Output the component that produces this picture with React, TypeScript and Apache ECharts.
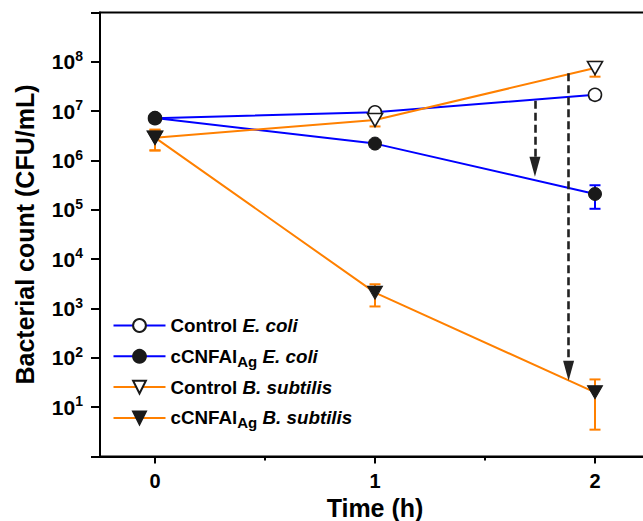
import React, { useEffect, useRef } from "react";
import * as echarts from "echarts";

// ---- data ----
const times = [0, 1, 2];
const seriesNames = [
  "Control E. coli",
  "cCNFAl_Ag E. coli",
  "Control B. subtilis",
  "cCNFAl_Ag B. subtilis",
];
const controlEcoli = [7.2e6, 9.5e6, 2.15e7];
const controlEcoliErr = [0.5e6, 0.8e6, 0.4e7];
const agEcoli = [7.3e6, 2.2e6, 2.1e5];
const agEcoliErr = [0.6e6, 0.3e6, 1.05e5];
const controlBs = [2.9e6, 6.6e6, 7.5e7];
const controlBsErr = [1.3e6, 1.7e6, 2.5e7];
const agBs = [2.9e6, 2.1e3, 20];
const agBsErr = [1.3e6, 1.0e3, 16.5];

const xTickValues = [0, 1, 2];
const xMinorTickValues = [0.5, 1.5];
const yLabelExponents = [1, 2, 3, 4, 5, 6, 7, 8];

// dashed arrows: time, start value, end value
const arrowTimes = [1.727, 1.88];
const arrowFrom = [1.63e7, 5.9e7];
const arrowTo = [7.5e5, 55];

const FONT = 'Arial, "Liberation Sans", sans-serif';
const BLUE = "#0000FF";
const ORANGE = "#FF8000";
const DARK = "#1a1a1a";
const TRI_DOWN = "path://M0,0L16,0L8,14Z";

const legendText: Record<string, string> = {
  "Control E. coli": "{b|Control }{i|E. coli}",
  "cCNFAl_Ag E. coli": "{b|cCNFAl}{sub|Ag}{i| E. coli}",
  "Control B. subtilis": "{b|Control }{i|B. subtilis}",
  "cCNFAl_Ag B. subtilis": "{b|cCNFAl}{sub|Ag}{i| B. subtilis}",
};

function errorSeries(vals: number[], errs: number[], color: string) {
  return {
    type: "custom",
    xAxisIndex: 0,
    yAxisIndex: 0,
    z: 1,
    silent: true,
    data: times.map((t, i) => [t, vals[i], errs[i]]),
    encode: { x: 0, y: 1 },
    renderItem: (params: any, api: any) => {
      const x = api.value(0);
      const y = api.value(1);
      const e = api.value(2);
      const hi = api.coord([x, y + e]);
      const lo = api.coord([x, y - e]);
      const w = 5.5;
      const style = { stroke: color, lineWidth: 2 };
      return {
        type: "group",
        children: [
          { type: "line", shape: { x1: hi[0], y1: hi[1], x2: lo[0], y2: lo[1] }, style },
          { type: "line", shape: { x1: hi[0] - w, y1: hi[1], x2: hi[0] + w, y2: hi[1] }, style },
          { type: "line", shape: { x1: lo[0] - w, y1: lo[1], x2: lo[0] + w, y2: lo[1] }, style },
        ],
      };
    },
  };
}

function lineSeries(
  name: string,
  vals: number[],
  color: string,
  symbol: string,
  size: number | number[],
  filled: boolean,
  extra: any = {}
) {
  return {
    type: "line",
    name,
    xAxisIndex: 0,
    yAxisIndex: 0,
    z: 2,
    data: times.map((t, i) => [t, vals[i]]),
    symbol,
    symbolSize: size,
    showAllSymbol: true,
    lineStyle: { color, width: 2 },
    itemStyle: filled
      ? { color: DARK, borderColor: DARK, borderWidth: 1 }
      : { color: "#ffffff", borderColor: DARK, borderWidth: 1.6 },
    emphasis: { disabled: true },
    ...extra,
  };
}

export default function App() {
  const ref = useRef<HTMLDivElement>(null);

  useEffect(() => {
    if (!ref.current) return;
    const chart = echarts.init(ref.current, undefined, { renderer: "svg" });

    const arrowData = arrowTimes.map((t, i) => [
      { coord: [t, arrowFrom[i]], symbol: "none" },
      { coord: [t, arrowTo[i]], symbol: "triangle", symbolSize: [11, 20] },
    ]);

    const option: any = {
      animation: false,
      backgroundColor: "#ffffff",
      textStyle: { fontFamily: FONT },
      grid: {
        left: 100,
        top: 12.5,
        width: 550,
        height: 444,
        outerBoundsMode: "none",
        containLabel: false,
        show: true,
        borderColor: "#000",
        borderWidth: 2,
        backgroundColor: "transparent",
      },
      legend: {
        data: seriesNames,
        orient: "vertical",
        left: 112.5,
        top: 316,
        padding: 0,
        itemWidth: 52,
        itemHeight: 16,
        itemGap: 8.8,
        selectedMode: false,
        formatter: (name: string) => legendText[name],
        textStyle: {
          fontFamily: FONT,
          fontWeight: "bold",
          fontSize: 18.8,
          color: "#000",
          rich: {
            b: { fontFamily: FONT, fontWeight: "bold", fontSize: 18.8, color: "#000", lineHeight: 22 },
            i: { fontFamily: FONT, fontWeight: "bold", fontStyle: "italic", fontSize: 18.8, color: "#000", lineHeight: 22 },
            sub: { fontFamily: FONT, fontWeight: "bold", fontSize: 15, color: "#000", lineHeight: 22, padding: [10, 0, 0, 0] },
          },
        },
      },
      xAxis: [
        {
          type: "value",
          min: -0.25,
          max: 2.25,
          position: "bottom",
          name: "Time (h)",
          nameLocation: "middle",
          nameGap: 28,
          nameTextStyle: { fontFamily: FONT, fontSize: 25, fontWeight: "bold", color: "#000" },
          axisLine: { show: true, onZero: false, lineStyle: { color: "#000", width: 2 } },
          axisTick: { show: true, customValues: xTickValues, length: 7, lineStyle: { color: "#000", width: 2 } },
          axisLabel: {
            customValues: xTickValues,
            margin: 14,
            fontFamily: FONT,
            fontSize: 20,
            fontWeight: "bold",
            color: "#000",
            formatter: (v: number) => String(v),
          },
          splitLine: { show: false },
        },
        {
          type: "value",
          min: -0.25,
          max: 2.25,
          position: "bottom",
          axisLine: { show: false, onZero: false },
          axisTick: { show: true, customValues: xMinorTickValues, length: 4, lineStyle: { color: "#000", width: 2 } },
          axisLabel: { show: false },
          splitLine: { show: false },
        },
      ],
      yAxis: {
        type: "log",
        logBase: 10,
        min: 1,
        max: 1e9,
        splitNumber: 9,
        name: "Bacterial count (CFU/mL)",
        nameLocation: "middle",
        nameGap: 63,
        nameTextStyle: { fontFamily: FONT, fontSize: 25, fontWeight: "bold", color: "#000" },
        axisLine: { show: true, onZero: false, lineStyle: { color: "#000", width: 2 } },
        axisTick: { show: true, length: 9, lineStyle: { color: "#000", width: 2 } },
        minorTick: { show: false },
        splitLine: { show: false },
        axisLabel: {
          margin: 17,
          formatter: (v: number) => {
            const e = Math.round(Math.log10(v));
            if (!yLabelExponents.includes(e)) return "";
            return `{b|10}{sup|${e}}`;
          },
          rich: {
            b: { fontFamily: FONT, fontWeight: "bold", fontSize: 21, color: "#000", lineHeight: 24 },
            sup: { fontFamily: FONT, fontWeight: "bold", fontSize: 14, color: "#000", lineHeight: 24, padding: [0, 0, 12, 0] },
          },
        },
      },
      series: [
        errorSeries(controlEcoli, controlEcoliErr, BLUE),
        errorSeries(agEcoli, agEcoliErr, BLUE),
        errorSeries(controlBs, controlBsErr, ORANGE),
        errorSeries(agBs, agBsErr, ORANGE),
        lineSeries(seriesNames[0], controlEcoli, BLUE, "circle", 13, false),
        lineSeries(seriesNames[1], agEcoli, BLUE, "circle", 13, true, {
          markLine: {
            silent: true,
            animation: false,
            symbol: ["none", "triangle"],
            symbolSize: 20,
            label: { show: false },
            emphasis: { disabled: true },
            lineStyle: { color: "#222", width: 2.6, type: [8, 4] },
            data: arrowData,
          },
        }),
        lineSeries(seriesNames[2], controlBs, ORANGE, TRI_DOWN, [15, 13], false),
        lineSeries(seriesNames[3], agBs, ORANGE, TRI_DOWN, [15, 13], true),
      ],
    };

    chart.setOption(option);
    return () => chart.dispose();
  }, []);

  return (
    <div
      ref={ref}
      style={{ position: "fixed", left: 0, top: 0, width: 643, height: 521, background: "#fff" }}
    />
  );
}
